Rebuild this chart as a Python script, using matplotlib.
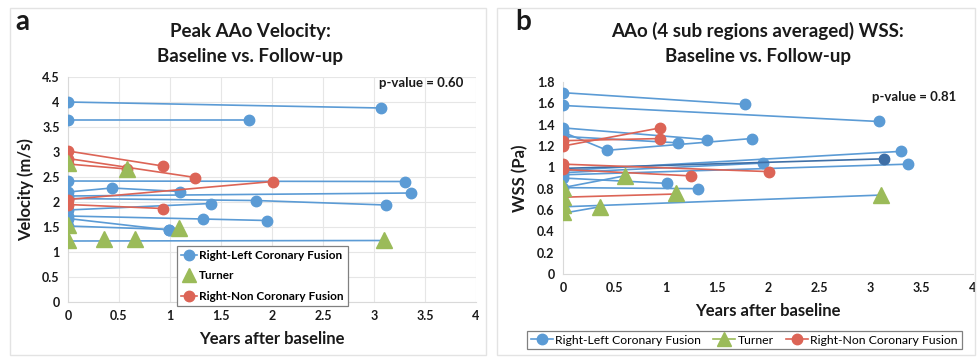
import matplotlib

matplotlib.use("Agg")

import matplotlib.pyplot as plt
from matplotlib.lines import Line2D
from matplotlib.patches import Rectangle

plt.rcParams["font.family"] = ["Lato", "DejaVu Sans"]

BLUE = "#5b9bd5"
DARK_BLUE = "#3f6fa6"
GREEN = "#9bbb59"
RED = "#dc6456"
GRID = "#d9d9d9"
TEXT = "#1a1a1a"

# panel a: peak velocity (m/s), one list per patient track
vel_rl_x = [[0, 3.07], [0, 1.77], [0, 3.30], [0, 0.43, 1.10], [0, 3.36],
            [0, 1.84, 3.12], [0, 1.40], [0, 1.32, 1.95], [0, 0.99], [0, 0.99], [0, 3.10]]
vel_rl_y = [[4.00, 3.88], [3.65, 3.65], [2.42, 2.41], [2.20, 2.28, 2.21], [2.12, 2.18],
            [2.07, 2.03, 1.94], [1.84, 1.97], [1.72, 1.66, 1.63], [1.52, 1.45], [1.67, 1.44], [1.22, 1.23]]
vel_rl_nomark = [10]
vel_rn_x = [[0, 0.93], [0, 1.25], [0, 0.58], [0, 2.01], [0, 0.93]]
vel_rn_y = [[3.02, 2.72], [2.87, 2.49], [2.76, 2.66], [2.05, 2.41], [1.95, 1.87]]
vel_t_x = [0, 0.58, 0, 1.09, 0, 0.35, 0.66, 3.10]
vel_t_y = [2.78, 2.66, 1.54, 1.49, 1.24, 1.26, 1.27, 1.24]

# panel b: averaged WSS (Pa)
wss_rl_x = [[0, 1.78], [0, 3.08], [0, 1.41], [0, 1.12], [0, 0.43, 1.84], [0, 3.30],
            [0, 3.37], [0, 1.95], [0, 1.01], [0, 1.32], [0, 3.10], [0, 0.36], [0, 0.60]]
wss_rl_y = [[1.70, 1.59], [1.58, 1.43], [1.37, 1.26], [1.29, 1.23], [1.33, 1.16, 1.27], [0.97, 1.15],
            [0.93, 1.03], [0.95, 1.04], [0.90, 0.85], [0.81, 0.80], [0.63, 0.74], [0.57, 0.63], [0.81, 0.92]]
wss_rl_nomark = [10, 11, 12]
wss_dark_x = [0, 3.13]
wss_dark_y = [0.99, 1.08]
wss_rn_x = [[0, 0.95], [0, 0.95], [0, 2.01], [0, 1.25], [0, 1.10]]
wss_rn_y = [[1.20, 1.37], [1.25, 1.27], [1.03, 0.96], [0.98, 0.92], [0.72, 0.75]]
wss_rn_nomark = [4]
wss_t_x = [0, 0, 0, 0, 0.60, 1.10, 0.36, 3.10]
wss_t_y = [0.81, 0.72, 0.65, 0.58, 0.92, 0.76, 0.63, 0.74]

fig = plt.figure(figsize=(9.78, 3.58), dpi=100)

# light panel frames
for x0, w in [(0.010, 0.487), (0.508, 0.489)]:
    fig.patches.append(Rectangle((x0, 0.008), w, 0.97, transform=fig.transFigure,
                                 fill=False, edgecolor="#e3e3e3", linewidth=1.0))


def draw_tracks(ax, xs, ys, color, nomark=()):
    for i, (x, y) in enumerate(zip(xs, ys)):
        ax.plot(x, y, color=color, lw=1.2, marker=None if i in nomark else "o",
                ms=7.5, zorder=3)


def style_axes(ax, ymax, ystep, grid):
    ax.set_xlim(0, 4)
    ax.set_ylim(0, ymax)
    ax.set_xticks([i * 0.5 for i in range(9)])
    ax.set_xticklabels(["0", "0.5", "1", "1.5", "2", "2.5", "3", "3.5", "4"])
    n = int(round(ymax / ystep))
    yt = [round(i * ystep, 1) for i in range(n + 1)]
    ax.set_yticks(yt)
    ax.set_yticklabels([f"{v:g}" for v in yt])
    ax.tick_params(length=0, labelsize=9, colors=TEXT, pad=6)
    for lab in ax.get_xticklabels() + ax.get_yticklabels():
        lab.set_fontweight("bold")
    for s in ["top", "right"]:
        ax.spines[s].set_visible(False)
    ax.spines["left"].set_color(GRID)
    ax.spines["bottom"].set_color(GRID)
    if grid:
        ax.grid(True, color="#e6e6e6", lw=0.8)
        ax.set_axisbelow(True)
    ax.set_xlabel("Years after baseline", fontsize=12, fontweight="bold", color=TEXT, labelpad=6)


# panel a
ax1 = fig.add_axes([0.0695, 0.1564, 0.4172, 0.6285])
draw_tracks(ax1, vel_rl_x, vel_rl_y, BLUE, vel_rl_nomark)
draw_tracks(ax1, vel_rn_x, vel_rn_y, RED)
ax1.plot(vel_t_x, vel_t_y, ls="none", marker="^", ms=11, color=GREEN, zorder=4)
style_axes(ax1, 4.5, 0.5, grid=True)
ax1.set_ylabel("Velocity (m/s)", fontsize=12, fontweight="bold", color=TEXT, labelpad=6)
ax1.text(3.05, 4.3, "p-value = 0.60", fontsize=9.5, fontweight="bold", color=TEXT)

handles = [
    Line2D([], [], color=BLUE, lw=1.2, marker="o", ms=7.5),
    Line2D([], [], color=GREEN, ls="none", marker="^", ms=10),
    Line2D([], [], color=RED, lw=1.2, marker="o", ms=7.5),
]
labels = ["Right-Left Coronary Fusion", "Turner", "Right-Non Coronary Fusion"]
leg1 = ax1.legend(handles, labels, loc="upper left", bbox_to_anchor=(0.268, 0.25),
                  fancybox=False, edgecolor="#808080", framealpha=1, handlelength=1.3,
                  handletextpad=0.2, borderpad=0.35, labelspacing=0.8, borderaxespad=0,
                  prop={"weight": "bold", "size": 8.5})
leg1.get_frame().set_linewidth(0.9)

fig.text(0.016, 0.915, "a", fontsize=20, fontweight="bold", color=TEXT)
fig.text(0.256, 0.878, "Peak AAo Velocity:\nBaseline vs. Follow-up", ha="center", va="center",
         fontsize=13.5, fontweight="bold", color=TEXT, linespacing=1.55)

# panel b
ax2 = fig.add_axes([0.5757, 0.2346, 0.419, 0.5363])
draw_tracks(ax2, wss_rl_x, wss_rl_y, BLUE, wss_rl_nomark)
ax2.plot(wss_dark_x, wss_dark_y, color=DARK_BLUE, lw=1.2, marker="o", ms=7.5, zorder=3)
draw_tracks(ax2, wss_rn_x, wss_rn_y, RED, wss_rn_nomark)
ax2.plot(wss_t_x, wss_t_y, ls="none", marker="^", ms=11, color=GREEN, zorder=4)
style_axes(ax2, 1.8, 0.2, grid=False)
ax2.set_ylabel("WSS (Pa)", fontsize=12, fontweight="bold", color=TEXT, labelpad=6)
ax2.text(3.02, 1.62, "p-value = 0.81", fontsize=9.5, fontweight="bold", color=TEXT)

handles2 = [
    Line2D([], [], color=BLUE, lw=1.2, marker="o", ms=7.5),
    Line2D([], [], color=GREEN, lw=1.2, marker="^", ms=10),
    Line2D([], [], color=RED, lw=1.2, marker="o", ms=7.5),
]
leg2 = fig.legend(handles2, labels, loc="center", bbox_to_anchor=(0.761, 0.05), ncol=3,
                  fancybox=False, edgecolor="#808080", framealpha=1, handlelength=1.8,
                  handletextpad=0.2, columnspacing=1.0, borderpad=0.3,
                  prop={"size": 8.8})
leg2.get_frame().set_linewidth(0.9)

fig.text(0.527, 0.915, "b", fontsize=20, fontweight="bold", color=TEXT)
fig.text(0.775, 0.878, "AAo (4 sub regions averaged) WSS:\nBaseline vs. Follow-up", ha="center",
         va="center", fontsize=13.5, fontweight="bold", color=TEXT, linespacing=1.55)

fig.savefig("out.png", dpi=100)
